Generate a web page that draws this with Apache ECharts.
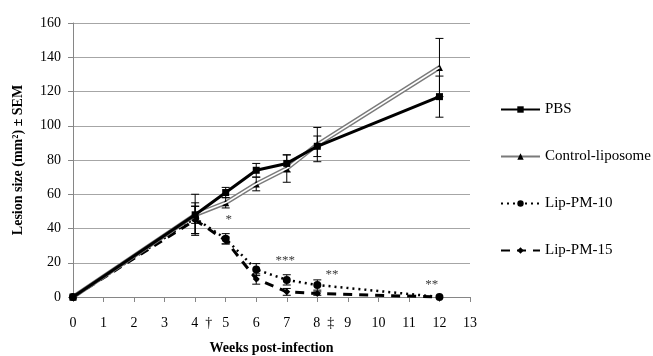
<!DOCTYPE html>
<html>
<head>
<meta charset="utf-8">
<script src="https://cdn.jsdelivr.net/npm/echarts@6/dist/echarts.min.js"></script>
<style>
html,body{margin:0;padding:0;background:#fff;}
#c{width:653px;height:356px;}
</style>
</head>
<body>
<div id="c"></div>
<script>
// ---- data ----
const weeks = [0, 4, 5, 6, 7, 8, 12];
const pbs = [0, 48, 61, 74, 78, 88, 117];
const pbsErr = [0, 5, 3, 4, 5, 6, 12];
const ctrl = [0, 48, 55, 66, 75, 89, 134];
const ctrlErr = [0, 12, 3, 4, 8, 10, 17];
const pm10 = [0, 46, 34, 16, 10, 7, 0];
const pm10Err = [0, 9, 3, 3.5, 3, 3, 0];
const pm15 = [0, 45, 33, 10.5, 3, 2, 0];
const pm15Err = [0, 8, 2, 3, 2, 1, 0];
const xTicks = [0,1,2,3,4,5,6,7,8,9,10,11,12,13];
const daggers = {4: '†', 8: '‡'};
const yTicks = [0,20,40,60,80,100,120,140,160];
const annX = [5.1, 6.95, 8.48, 11.75];
const annY = [45, 21, 13, 7];
const annText = ['*', '***', '**', '**'];
const seriesNames = ['PBS', 'Control-liposome', 'Lip-PM-10', 'Lip-PM-15'];

const FONT = 'Liberation Serif';
function pts(vals){ return weeks.map((w,i)=>[w, vals[i]]); }
function errPts(vals, errs){ return weeks.map((w,i)=>[w, vals[i]-errs[i], vals[i]+errs[i]]).filter((d,i)=>errs[i]>0); }

function errorSeries(vals, errs){
  return {
    type: 'custom',
    data: errPts(vals, errs),
    z: 3,
    silent: true,
    renderItem: function(params, api){
      const x = api.value(0);
      const lo = api.coord([x, api.value(1)]);
      const hi = api.coord([x, api.value(2)]);
      const cap = 4;
      const st = {stroke: '#000', lineWidth: 1};
      return {type: 'group', children: [
        {type:'line', shape:{x1:lo[0], y1:lo[1], x2:hi[0], y2:hi[1]}, style: st},
        {type:'line', shape:{x1:lo[0]-cap, y1:lo[1], x2:lo[0]+cap, y2:lo[1]}, style: st},
        {type:'line', shape:{x1:hi[0]-cap, y1:hi[1], x2:hi[0]+cap, y2:hi[1]}, style: st}
      ]};
    }
  };
}

const chart = echarts.init(document.getElementById('c'));
chart.setOption({
  animation: false,
  backgroundColor: '#fff',
  textStyle: {fontFamily: FONT, color: '#000'},
  grid: {left: 73, right: 183, top: 23, bottom: 59, containLabel: false, outerBoundsMode: 'none'},
  legend: {
    data: seriesNames,
    orient: 'vertical',
    left: 495, top: 97,
    itemWidth: 39, itemHeight: 8, itemGap: 32,
    textStyle: {fontFamily: FONT, fontSize: 15, color: '#000'}
  },
  xAxis: {
    type: 'value', min: 0, max: 13, interval: 1,
    name: 'Weeks post-infection', nameLocation: 'middle', nameGap: 44,
    nameTextStyle: {fontFamily: FONT, fontSize: 14, fontWeight: 'bold', color: '#000'},
    axisLine: {show: true, lineStyle: {color: '#868686', width: 1}},
    axisTick: {show: true, length: 5, lineStyle: {color: '#868686'}},
    splitLine: {show: false},
    axisLabel: {
      margin: 19, fontFamily: FONT, fontSize: 14, color: '#000',
      formatter: function(v){
        const i = xTicks.indexOf(v);
        if (i < 0) return '';
        if (daggers[v]) return '{p| }' + v + '{d|' + daggers[v] + '}';
        return String(v);
      },
      rich: {
        p: {width: 13, fontFamily: FONT, fontSize: 14},
        d: {padding: [0,0,0,7], fontFamily: FONT, fontSize: 14, color: '#000'}
      }
    }
  },
  yAxis: {
    type: 'value', min: 0, max: 160, interval: 20,
    name: 'Lesion size (mm²) ± SEM', nameLocation: 'middle', nameGap: 48,
    nameTextStyle: {fontFamily: FONT, fontSize: 14, fontWeight: 'bold', color: '#000'},
    axisLine: {show: true, lineStyle: {color: '#868686', width: 1}},
    axisTick: {show: true, length: 5, lineStyle: {color: '#868686'}},
    splitLine: {show: true, lineStyle: {color: '#a6a6a6', width: 1}},
    axisLabel: {
      margin: 12, fontFamily: FONT, fontSize: 14, color: '#000',
      formatter: function(v){ return yTicks.indexOf(v) >= 0 ? String(v) : ''; }
    }
  },
  series: [
    errorSeries(pbs, pbsErr),
    errorSeries(ctrl, ctrlErr),
    errorSeries(pm10, pm10Err),
    errorSeries(pm15, pm15Err),
    {
      name: 'Lip-PM-15', type: 'line', data: pts(pm15), clip: false, z: 4,
      symbol: 'diamond', symbolSize: 7,
      lineStyle: {color: '#000', width: 3, type: [9, 7]},
      itemStyle: {color: '#000'}
    },
    {
      name: 'Lip-PM-10', type: 'line', data: pts(pm10), clip: false, z: 5,
      symbol: 'circle', symbolSize: 8,
      lineStyle: {color: '#000', width: 2.5, type: [2, 4]},
      itemStyle: {color: '#000'}
    },
    {
      name: 'Control-liposome', type: 'line', data: pts(ctrl), clip: false, z: 6,
      symbol: 'triangle', symbolSize: 7,
      lineStyle: {color: '#7a7a7a', width: 4.5},
      itemStyle: {color: '#000'}
    },
    {
      name: 'ctrl-inner', type: 'line', data: pts(ctrl), clip: false, z: 7,
      showSymbol: false, silent: true,
      lineStyle: {color: '#fff', width: 1.6}
    },
    {
      name: 'PBS', type: 'line', data: pts(pbs), clip: false, z: 8,
      symbol: 'rect', symbolSize: 7,
      lineStyle: {color: '#000', width: 3},
      itemStyle: {color: '#000'}
    },
    {
      name: 'annotations', type: 'scatter', silent: true, z: 9,
      symbolSize: 0,
      data: annX.map((x,i)=>[x, annY[i], annText[i]]),
      label: {
        show: true, position: 'inside', color: '#000',
        fontFamily: FONT, fontSize: 13,
        formatter: function(p){ return p.value[2]; }
      }
    }
  ]
});
</script>
</body>
</html>
